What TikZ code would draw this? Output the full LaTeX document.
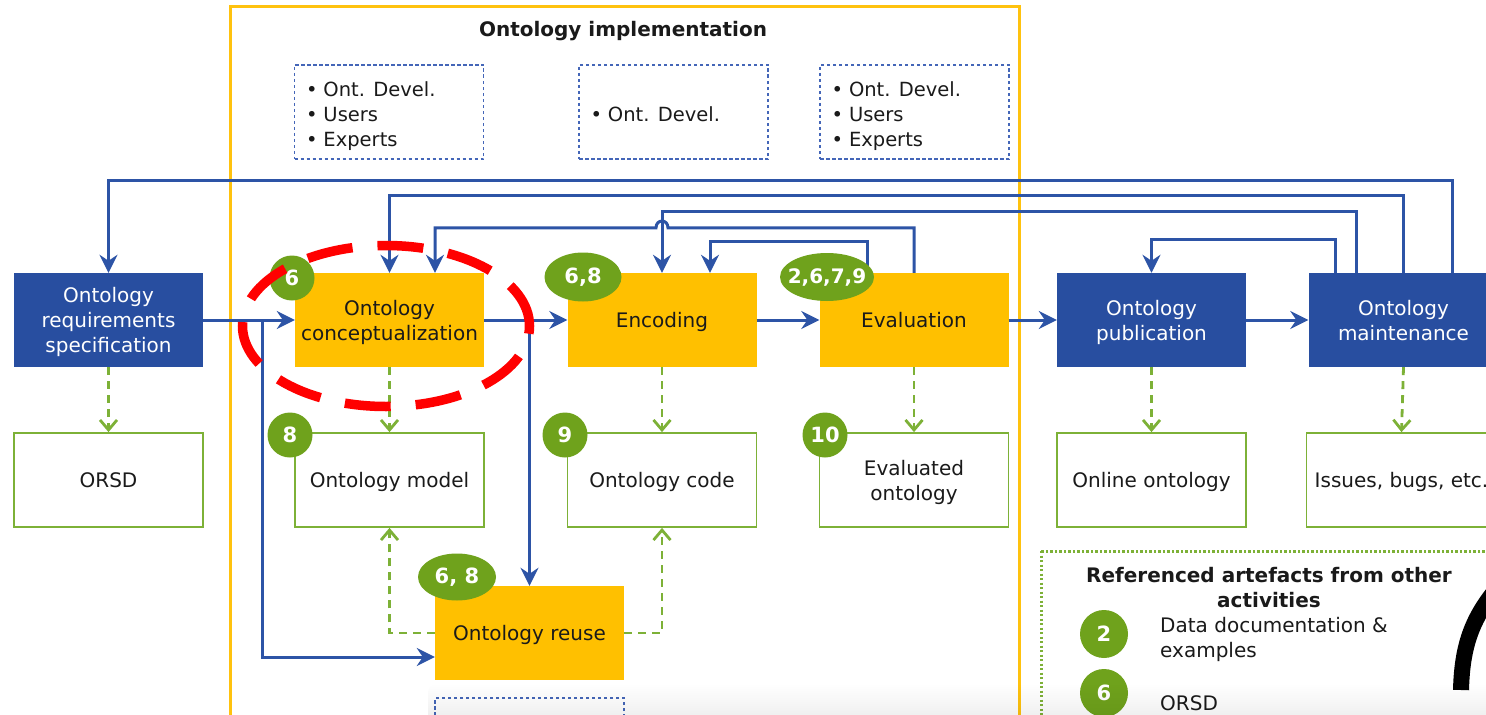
\documentclass[tikz,border=0pt]{standalone}
\usepackage{fontspec}
\setmainfont{DejaVu Sans}
\usetikzlibrary{arrows.meta,calc,shapes.geometric,fadings}

\definecolor{procblue}{HTML}{284EA0}
\definecolor{lineblue}{HTML}{2D54A6}
\definecolor{procorange}{HTML}{FFC000}
\definecolor{badgegreen}{HTML}{6FA21C}
\definecolor{outgreen}{HTML}{7DB137}
\definecolor{frameyellow}{HTML}{FFC20E}
\definecolor{roleblue}{HTML}{4466B8}
\definecolor{inktext}{HTML}{1A1A1A}

\tikzfading[name=shadefade, top color=transparent!100, bottom color=transparent!0]

\begin{document}
\begin{tikzpicture}[x=1bp, y=-1bp,
  every node/.style={font=\fontsize{20bp}{25bp}\selectfont, inner sep=0pt, text=inktext},
  proc/.style={minimum width=189bp, minimum height=94bp, align=center, text depth=0pt},
  bluebox/.style={proc, fill=procblue, text=white},
  orangebox/.style={proc, fill=procorange},
  artefact/.style={proc, draw=outgreen, line width=1.8bp, fill=white},
  rolebox/.style={draw=roleblue, line width=1.4bp, dash pattern=on 3.5bp off 2.5bp,
    minimum width=189bp, minimum height=94bp},
  rolelist/.style={anchor=west, align=left, font=\fontsize{19.5bp}{25bp}\selectfont},
  flow/.style={draw=lineblue, line width=3bp, -{Stealth[length=18bp,width=18bp,inset=6bp]}},
  feeds/.style={draw=outgreen, line width=2.8bp, dash pattern=on 8bp off 6bp,
    -{Straight Barb[length=10bp,width=17bp]}},
  badge/.style={circle, fill=badgegreen, text=white, minimum size=45bp,
    font=\fontsize{21bp}{24bp}\selectfont\bfseries},
  oval/.style={ellipse, fill=badgegreen, text=white, inner xsep=-24bp,
    font=\fontsize{21bp}{24bp}\selectfont\bfseries},
  heading/.style={font=\fontsize{20bp}{25bp}\selectfont\bfseries, align=center}
]
\useasboundingbox (0,0) rectangle (1486,715);
\clip (0,0) rectangle (1486,715);
\fill[white] (0,0) rectangle (1486,715);

% implementation frame
\draw[frameyellow, line width=3bp] (230,7) rectangle (1019,790);
\node[heading] (impltitle) at (623,31) {Ontology implementation};

% participant boxes
\node[rolebox] (roles1) at (389,112) {};
\node[rolebox] (roles2) at (673.5,112) {};
\node[rolebox] (roles3) at (914.5,112) {};
\node[rolelist] (list1) at ([xshift=12bp,yshift=-4bp]roles1.west)
  {\textbullet\hspace{6bp}Ont. Devel.\\\textbullet\hspace{6bp}Users\\\textbullet\hspace{6bp}Experts};
\node[rolelist] (list2) at ([xshift=12bp,yshift=-2bp]roles2.west) {\textbullet\hspace{6bp}Ont. Devel.};
\node[rolelist] (list3) at ([xshift=12bp,yshift=-4bp]roles3.west)
  {\textbullet\hspace{6bp}Ont. Devel.\\\textbullet\hspace{6bp}Users\\\textbullet\hspace{6bp}Experts};

% activities
\node[bluebox] (ors) at (108.5,320) {Ontology\\requirements\\specification};
\node[orangebox] (conc) at (389.5,320) {Ontology\\conceptualization};
\node[orangebox] (enc) at (662,320) {Encoding};
\node[orangebox] (eval) at (914,320) {Evaluation};
\node[bluebox] (pub) at (1151.5,320) {Ontology\\publication};
\node[bluebox, minimum width=190bp] (maint) at (1403.5,320) {Ontology\\maintenance};
\node[orangebox] (reuse) at (529.5,633) {Ontology reuse};
\node[rolebox] (roles4) at (529.5,745) {};

% artefacts
\node[artefact] (orsd) at (108.5,480) {ORSD};
\node[artefact] (model) at (389.5,480) {Ontology model};
\node[artefact] (code) at (662,480) {Ontology code};
\node[artefact] (evo) at (914,480) {Evaluated\\ontology};
\node[artefact] (online) at (1151.5,480) {Online ontology};
\node[artefact, minimum width=190bp] (issues) at (1401.5,480) {Issues, bugs, etc.};

% main flow
\coordinate (split1) at ([xshift=59bp]ors.east);
\coordinate (split2) at (reuse.north |- conc.east);
\draw[flow] (ors) -- (conc);
\draw[flow] (split1) |- ([yshift=-24bp]reuse.west);
\draw[flow] (conc) -- (enc);
\draw[flow] (split2) -- (reuse.north);
\draw[flow] (enc) -- (eval);
\draw[flow] (eval) -- (pub);
\draw[flow] (pub) -- (maint);

% produced artefacts
\foreach \a/\b in {ors/orsd, conc/model, enc/code, eval/evo, pub/online, maint/issues}
  \draw[feeds] (\a.south) -- (\b.north);
\draw[feeds] (reuse.west) -| (model.south);
\draw[feeds] (reuse.east) -| (code.south);

% feedback loops
\draw[flow] ([xshift=48.5bp]maint.north) |- ([yshift=92bp]ors.north) -- (ors.north);
\draw[flow] (maint.north) |- ([yshift=77bp]conc.north) -- (conc.north);
\draw[flow] ([xshift=-47.5bp]maint.north) |- ([yshift=61bp]enc.north) -- (enc.north);
\draw[flow] ([xshift=-68.5bp]maint.north) |- ([yshift=33bp]pub.north) -- (pub.north);
\draw[flow] ([xshift=-47bp]eval.north) |- ([xshift=48bp,yshift=31bp]enc.north)
  -- ([xshift=48bp]enc.north);
\coordinate (hop) at ([yshift=45bp]enc.north);
\draw[flow] (eval.north) |- ([xshift=6bp]hop)
  .. controls +(0,9bp) and +(0,9bp) .. ([xshift=-6bp]hop)
  -| ([xshift=45.5bp]conc.north);

% referenced artefact badges
\node[badge] (b6) at (292,278) {6};
\node[badge] (b8) at (290,435) {8};
\node[badge] (b9) at (565,435) {9};
\node[badge] (b10) at (825,435) {10};
\node[oval, minimum width=77bp, minimum height=49bp] (o68) at (583,277) {6,8};
\node[oval, minimum width=94bp, minimum height=48bp, inner xsep=-30bp,
  font=\fontsize{20bp}{24bp}\selectfont\bfseries] (o2679) at (827,277) {2,6,7,9};
\node[oval, minimum width=78bp, minimum height=47bp] (o68b) at (457,577) {6, 8};

% legend
\draw[outgreen, line width=3bp, dash pattern=on 2.2bp off 2.3bp] (1041,551) rectangle (1530,790);
\node[heading] (legtitle) at (1269,587.5) {Referenced artefacts from other\\activities};
\node[badge, minimum size=48bp] (lg2) at (1104,634) {2};
\node[anchor=west, align=left] (lg2t) at (1160,639) {Data documentation \&\\examples};
\node[badge, minimum size=48bp] (lg6) at (1104,693) {6};
\node[anchor=west] (lg6t) at (1160,703) {ORSD};

% highlight around the conceptualization activity
\node[ellipse, draw=red, line width=9.5bp, dash pattern=on 46bp off 25bp,
  minimum width=287bp, minimum height=161bp] (focus) at (386,326) {};

% spinner arc at the right edge
\draw[black, line width=16bp] (1461,690) .. controls (1462,650) and (1470,622) .. (1494,592);

% soft shadow along the bottom edge
\fill[black, fill opacity=0.09, path fading=shadefade, rounded corners=8bp]
  (428,684) rectangle (1520,730);
\end{tikzpicture}
\end{document}
